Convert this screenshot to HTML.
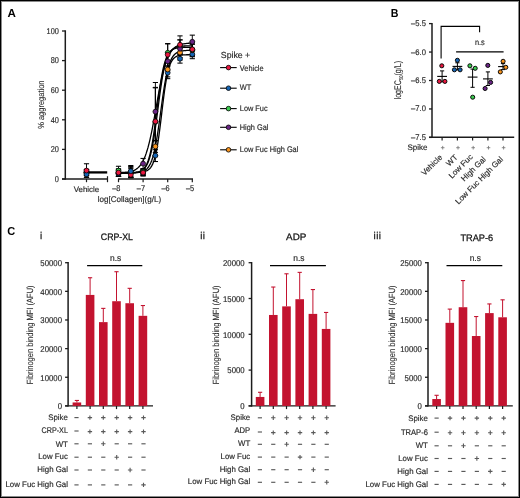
<!DOCTYPE html>
<html><head><meta charset="utf-8"><style>
html,body{margin:0;padding:0;background:#fff;}
body{width:520px;height:498px;overflow:hidden;position:relative;}
svg{position:absolute;left:0;top:0;font-family:"Liberation Sans", sans-serif;will-change:transform;text-rendering:geometricPrecision;}
</style></head><body>
<svg width="520" height="498" viewBox="0 0 520 498">
<rect x="0" y="0" width="520" height="498" fill="#fff"/>
<text x="7.50" y="16.90" font-size="11.6" text-anchor="start" fill="#000" font-weight="bold" >A</text>
<text transform="translate(390.80,16.80) scale(0.92,1)" font-size="11.6" text-anchor="start" fill="#000" font-weight="bold" >B</text>
<text transform="translate(7.30,234.80) scale(0.95,1)" font-size="11.6" text-anchor="start" fill="#000" font-weight="bold" >C</text>
<line x1="65.30" y1="30.30" x2="65.30" y2="179.70" stroke="#1c1c1c" stroke-width="1.5"/>
<line x1="62.00" y1="179.00" x2="65.30" y2="179.00" stroke="#1c1c1c" stroke-width="1.3"/>
<text transform="translate(58.90,181.70) scale(0.88,1)" font-size="8.4" text-anchor="end" fill="#2c2c2c" font-weight="normal"  stroke="#2c2c2c" stroke-width="0.18">0</text>
<line x1="62.00" y1="149.40" x2="65.30" y2="149.40" stroke="#1c1c1c" stroke-width="1.3"/>
<text transform="translate(58.90,152.10) scale(0.88,1)" font-size="8.4" text-anchor="end" fill="#2c2c2c" font-weight="normal"  stroke="#2c2c2c" stroke-width="0.18">20</text>
<line x1="62.00" y1="119.80" x2="65.30" y2="119.80" stroke="#1c1c1c" stroke-width="1.3"/>
<text transform="translate(58.90,122.50) scale(0.88,1)" font-size="8.4" text-anchor="end" fill="#2c2c2c" font-weight="normal"  stroke="#2c2c2c" stroke-width="0.18">40</text>
<line x1="62.00" y1="90.20" x2="65.30" y2="90.20" stroke="#1c1c1c" stroke-width="1.3"/>
<text transform="translate(58.90,92.90) scale(0.88,1)" font-size="8.4" text-anchor="end" fill="#2c2c2c" font-weight="normal"  stroke="#2c2c2c" stroke-width="0.18">60</text>
<line x1="62.00" y1="60.60" x2="65.30" y2="60.60" stroke="#1c1c1c" stroke-width="1.3"/>
<text transform="translate(58.90,63.30) scale(0.88,1)" font-size="8.4" text-anchor="end" fill="#2c2c2c" font-weight="normal"  stroke="#2c2c2c" stroke-width="0.18">80</text>
<line x1="62.00" y1="31.00" x2="65.30" y2="31.00" stroke="#1c1c1c" stroke-width="1.3"/>
<text transform="translate(58.90,33.70) scale(0.88,1)" font-size="8.4" text-anchor="end" fill="#2c2c2c" font-weight="normal"  stroke="#2c2c2c" stroke-width="0.18">100</text>
<line x1="62.00" y1="179.00" x2="107.50" y2="179.00" stroke="#1c1c1c" stroke-width="1.4"/>
<line x1="107.50" y1="176.20" x2="107.50" y2="182.20" stroke="#1c1c1c" stroke-width="1.2"/>
<line x1="86.50" y1="179.00" x2="86.50" y2="182.20" stroke="#1c1c1c" stroke-width="1.2"/>
<line x1="118.00" y1="179.00" x2="193.00" y2="179.00" stroke="#1c1c1c" stroke-width="1.4"/>
<line x1="118.50" y1="179.00" x2="118.50" y2="182.20" stroke="#1c1c1c" stroke-width="1.2"/>
<text transform="translate(120.40,191.30) scale(0.88,1)" font-size="8.4" text-anchor="end" fill="#2c2c2c" font-weight="normal"  stroke="#2c2c2c" stroke-width="0.18">&#8211;8</text>
<line x1="143.10" y1="179.00" x2="143.10" y2="182.20" stroke="#1c1c1c" stroke-width="1.2"/>
<text transform="translate(145.00,191.30) scale(0.88,1)" font-size="8.4" text-anchor="end" fill="#2c2c2c" font-weight="normal"  stroke="#2c2c2c" stroke-width="0.18">&#8211;7</text>
<line x1="167.70" y1="179.00" x2="167.70" y2="182.20" stroke="#1c1c1c" stroke-width="1.2"/>
<text transform="translate(169.60,191.30) scale(0.88,1)" font-size="8.4" text-anchor="end" fill="#2c2c2c" font-weight="normal"  stroke="#2c2c2c" stroke-width="0.18">&#8211;6</text>
<line x1="192.30" y1="179.00" x2="192.30" y2="182.20" stroke="#1c1c1c" stroke-width="1.2"/>
<text transform="translate(194.20,191.30) scale(0.88,1)" font-size="8.4" text-anchor="end" fill="#2c2c2c" font-weight="normal"  stroke="#2c2c2c" stroke-width="0.18">&#8211;5</text>
<text x="86.40" y="191.60" font-size="7.9" text-anchor="middle" fill="#2c2c2c" font-weight="normal"  stroke="#2c2c2c" stroke-width="0.18">Vehicle</text>
<text x="97.80" y="201.60" font-size="8.3" text-anchor="start" fill="#2c2c2c" font-weight="normal" textLength="63.3" lengthAdjust="spacingAndGlyphs" stroke="#2c2c2c" stroke-width="0.18">log[Collagen](g/L)</text>
<text transform="translate(43.6,104.7) rotate(-90)" font-size="8.8" text-anchor="middle" fill="#2c2c2c" stroke="#2c2c2c" stroke-width="0.1" textLength="48.3" lengthAdjust="spacingAndGlyphs">% aggregation</text>
<polyline points="118.50,173.08 119.42,173.07 120.34,173.07 121.27,173.07 122.19,173.07 123.11,173.07 124.03,173.06 124.96,173.06 125.88,173.05 126.80,173.04 127.72,173.04 128.65,173.03 129.57,173.01 130.49,172.99 131.42,172.97 132.34,172.95 133.26,172.91 134.18,172.87 135.10,172.82 136.03,172.76 136.95,172.68 137.87,172.58 138.80,172.45 139.72,172.30 140.64,172.11 141.56,171.87 142.48,171.57 143.41,171.20 144.33,170.74 145.25,170.17 146.18,169.47 147.10,168.61 148.02,167.54 148.94,166.25 149.87,164.66 150.79,162.75 151.71,160.44 152.63,157.70 153.56,154.46 154.48,150.67 155.40,146.32 156.32,141.39 157.25,135.89 158.17,129.90 159.09,123.50 160.01,116.83 160.94,110.02 161.86,103.26 162.78,96.70 163.70,90.48 164.62,84.72 165.55,79.50 166.47,74.84 167.39,70.76 168.31,67.24 169.24,64.24 170.16,61.72 171.08,59.61 172.00,57.86 172.93,56.42 173.85,55.24 174.77,54.28 175.69,53.49 176.62,52.86 177.54,52.35 178.46,51.93 179.38,51.60 180.31,51.33 181.23,51.12 182.15,50.94 183.07,50.80 184.00,50.69 184.92,50.60 185.84,50.53 186.77,50.47 187.69,50.43 188.61,50.39 189.53,50.36 190.45,50.34 191.38,50.32 192.30,50.30" fill="none" stroke="#000" stroke-width="1.3"/>
<polyline points="118.50,172.34 119.42,172.34 120.34,172.34 121.27,172.34 122.19,172.34 123.11,172.34 124.03,172.34 124.96,172.34 125.88,172.34 126.80,172.33 127.72,172.33 128.65,172.33 129.57,172.33 130.49,172.32 131.42,172.32 132.34,172.31 133.26,172.30 134.18,172.29 135.10,172.28 136.03,172.26 136.95,172.24 137.87,172.21 138.80,172.17 139.72,172.12 140.64,172.05 141.56,171.97 142.48,171.85 143.41,171.71 144.33,171.52 145.25,171.27 146.18,170.96 147.10,170.55 148.02,170.02 148.94,169.33 149.87,168.46 150.79,167.34 151.71,165.91 152.63,164.11 153.56,161.86 154.48,159.05 155.40,155.62 156.32,151.47 157.25,146.57 158.17,140.88 159.09,134.45 160.01,127.39 160.94,119.89 161.86,112.17 162.78,104.49 163.70,97.12 164.62,90.26 165.55,84.08 166.47,78.66 167.39,74.02 168.31,70.13 169.24,66.93 170.16,64.32 171.08,62.23 172.00,60.57 172.93,59.26 173.85,58.23 174.77,57.43 175.69,56.80 176.62,56.32 177.54,55.94 178.46,55.65 179.38,55.43 180.31,55.26 181.23,55.12 182.15,55.02 183.07,54.94 184.00,54.88 184.92,54.84 185.84,54.80 186.77,54.77 187.69,54.75 188.61,54.73 189.53,54.72 190.45,54.71 191.38,54.70 192.30,54.70" fill="none" stroke="#000" stroke-width="1.3"/>
<polyline points="118.50,173.07 119.42,173.07 120.34,173.07 121.27,173.06 122.19,173.06 123.11,173.05 124.03,173.05 124.96,173.04 125.88,173.03 126.80,173.01 127.72,173.00 128.65,172.98 129.57,172.95 130.49,172.92 131.42,172.88 132.34,172.83 133.26,172.76 134.18,172.68 135.10,172.58 136.03,172.46 136.95,172.30 137.87,172.11 138.80,171.86 139.72,171.56 140.64,171.18 141.56,170.71 142.48,170.13 143.41,169.41 144.33,168.52 145.25,167.42 146.18,166.08 147.10,164.44 148.02,162.44 148.94,160.04 149.87,157.17 150.79,153.77 151.71,149.80 152.63,145.22 153.56,140.03 154.48,134.25 155.40,127.94 156.32,121.21 157.25,114.19 158.17,107.06 159.09,99.99 160.01,93.14 160.94,86.68 161.86,80.71 162.78,75.32 163.70,70.54 164.62,66.37 165.55,62.78 166.47,59.74 167.39,57.19 168.31,55.07 169.24,53.31 170.16,51.87 171.08,50.70 172.00,49.75 172.93,48.97 173.85,48.35 174.77,47.84 175.69,47.44 176.62,47.11 177.54,46.85 178.46,46.64 179.38,46.47 180.31,46.34 181.23,46.23 182.15,46.14 183.07,46.07 184.00,46.02 184.92,45.98 185.84,45.94 186.77,45.91 187.69,45.89 188.61,45.87 189.53,45.86 190.45,45.85 191.38,45.84 192.30,45.83" fill="none" stroke="#000" stroke-width="1.3"/>
<polyline points="118.50,172.90 119.42,172.87 120.34,172.83 121.27,172.78 122.19,172.73 123.11,172.67 124.03,172.60 124.96,172.52 125.88,172.42 126.80,172.30 127.72,172.17 128.65,172.01 129.57,171.83 130.49,171.61 131.42,171.35 132.34,171.06 133.26,170.71 134.18,170.30 135.10,169.83 136.03,169.27 136.95,168.63 137.87,167.88 138.80,167.01 139.72,166.00 140.64,164.84 141.56,163.51 142.48,161.97 143.41,160.22 144.33,158.22 145.25,155.96 146.18,153.41 147.10,150.56 148.02,147.39 148.94,143.90 149.87,140.08 150.79,135.95 151.71,131.52 152.63,126.82 153.56,121.90 154.48,116.81 155.40,111.60 156.32,106.35 157.25,101.12 158.17,95.97 159.09,90.98 160.01,86.19 160.94,81.65 161.86,77.40 162.78,73.46 163.70,69.84 164.62,66.55 165.55,63.57 166.47,60.91 167.39,58.54 168.31,56.45 169.24,54.60 170.16,52.98 171.08,51.57 172.00,50.34 172.93,49.28 173.85,48.36 174.77,47.57 175.69,46.88 176.62,46.30 177.54,45.79 178.46,45.36 179.38,44.99 180.31,44.68 181.23,44.41 182.15,44.17 183.07,43.98 184.00,43.81 184.92,43.67 185.84,43.54 186.77,43.44 187.69,43.35 188.61,43.27 189.53,43.21 190.45,43.15 191.38,43.11 192.30,43.07" fill="none" stroke="#000" stroke-width="1.3"/>
<polyline points="118.50,173.07 119.42,173.07 120.34,173.07 121.27,173.06 122.19,173.06 123.11,173.06 124.03,173.05 124.96,173.04 125.88,173.03 126.80,173.02 127.72,173.00 128.65,172.98 129.57,172.95 130.49,172.92 131.42,172.88 132.34,172.83 133.26,172.76 134.18,172.67 135.10,172.57 136.03,172.44 136.95,172.27 137.87,172.06 138.80,171.79 139.72,171.46 140.64,171.04 141.56,170.51 142.48,169.85 143.41,169.03 144.33,168.01 145.25,166.75 146.18,165.19 147.10,163.28 148.02,160.96 148.94,158.15 149.87,154.80 150.79,150.85 151.71,146.26 152.63,141.01 153.56,135.13 154.48,128.68 155.40,121.78 156.32,114.57 157.25,107.25 158.17,100.01 159.09,93.03 160.01,86.48 160.94,80.48 161.86,75.10 162.78,70.38 163.70,66.30 164.62,62.83 165.55,59.93 166.47,57.51 167.39,55.52 168.31,53.90 169.24,52.58 170.16,51.51 171.08,50.66 172.00,49.97 172.93,49.42 173.85,48.98 174.77,48.63 175.69,48.35 176.62,48.13 177.54,47.96 178.46,47.82 179.38,47.70 180.31,47.62 181.23,47.55 182.15,47.49 183.07,47.45 184.00,47.41 184.92,47.39 185.84,47.36 186.77,47.35 187.69,47.33 188.61,47.32 189.53,47.31 190.45,47.31 191.38,47.30 192.30,47.30" fill="none" stroke="#000" stroke-width="1.3"/>
<line x1="88.80" y1="172.40" x2="107.20" y2="172.40" stroke="#000" stroke-width="2.3"/>
<line x1="86.50" y1="169.82" x2="86.50" y2="175.74" stroke="#000" stroke-width="0.95"/>
<line x1="83.90" y1="169.82" x2="89.10" y2="169.82" stroke="#000" stroke-width="1.05"/>
<line x1="83.90" y1="175.74" x2="89.10" y2="175.74" stroke="#000" stroke-width="1.05"/>
<line x1="86.50" y1="169.38" x2="86.50" y2="175.30" stroke="#000" stroke-width="0.95"/>
<line x1="83.90" y1="169.38" x2="89.10" y2="169.38" stroke="#000" stroke-width="1.05"/>
<line x1="83.90" y1="175.30" x2="89.10" y2="175.30" stroke="#000" stroke-width="1.05"/>
<line x1="86.50" y1="169.68" x2="86.50" y2="175.60" stroke="#000" stroke-width="0.95"/>
<line x1="83.90" y1="169.68" x2="89.10" y2="169.68" stroke="#000" stroke-width="1.05"/>
<line x1="83.90" y1="175.60" x2="89.10" y2="175.60" stroke="#000" stroke-width="1.05"/>
<line x1="86.50" y1="171.30" x2="86.50" y2="177.22" stroke="#000" stroke-width="0.95"/>
<line x1="83.90" y1="171.30" x2="89.10" y2="171.30" stroke="#000" stroke-width="1.05"/>
<line x1="83.90" y1="177.22" x2="89.10" y2="177.22" stroke="#000" stroke-width="1.05"/>
<line x1="86.50" y1="163.76" x2="86.50" y2="177.37" stroke="#000" stroke-width="0.95"/>
<line x1="83.90" y1="163.76" x2="89.10" y2="163.76" stroke="#000" stroke-width="1.05"/>
<line x1="83.90" y1="177.37" x2="89.10" y2="177.37" stroke="#000" stroke-width="1.05"/>
<line x1="118.50" y1="169.82" x2="118.50" y2="176.34" stroke="#000" stroke-width="0.95"/>
<line x1="115.90" y1="169.82" x2="121.10" y2="169.82" stroke="#000" stroke-width="1.05"/>
<line x1="115.90" y1="176.34" x2="121.10" y2="176.34" stroke="#000" stroke-width="1.05"/>
<line x1="118.50" y1="171.16" x2="118.50" y2="176.48" stroke="#000" stroke-width="0.95"/>
<line x1="115.90" y1="171.16" x2="121.10" y2="171.16" stroke="#000" stroke-width="1.05"/>
<line x1="115.90" y1="176.48" x2="121.10" y2="176.48" stroke="#000" stroke-width="1.05"/>
<line x1="118.50" y1="169.23" x2="118.50" y2="176.34" stroke="#000" stroke-width="0.95"/>
<line x1="115.90" y1="169.23" x2="121.10" y2="169.23" stroke="#000" stroke-width="1.05"/>
<line x1="115.90" y1="176.34" x2="121.10" y2="176.34" stroke="#000" stroke-width="1.05"/>
<line x1="118.50" y1="166.27" x2="118.50" y2="175.15" stroke="#000" stroke-width="0.95"/>
<line x1="115.90" y1="166.27" x2="121.10" y2="166.27" stroke="#000" stroke-width="1.05"/>
<line x1="115.90" y1="175.15" x2="121.10" y2="175.15" stroke="#000" stroke-width="1.05"/>
<line x1="118.50" y1="168.79" x2="118.50" y2="176.48" stroke="#000" stroke-width="0.95"/>
<line x1="115.90" y1="168.79" x2="121.10" y2="168.79" stroke="#000" stroke-width="1.05"/>
<line x1="115.90" y1="176.48" x2="121.10" y2="176.48" stroke="#000" stroke-width="1.05"/>
<line x1="130.80" y1="168.64" x2="130.80" y2="177.52" stroke="#000" stroke-width="0.95"/>
<line x1="128.20" y1="168.64" x2="133.40" y2="168.64" stroke="#000" stroke-width="1.05"/>
<line x1="128.20" y1="177.52" x2="133.40" y2="177.52" stroke="#000" stroke-width="1.05"/>
<line x1="130.80" y1="167.31" x2="130.80" y2="177.37" stroke="#000" stroke-width="0.95"/>
<line x1="128.20" y1="167.31" x2="133.40" y2="167.31" stroke="#000" stroke-width="1.05"/>
<line x1="128.20" y1="177.37" x2="133.40" y2="177.37" stroke="#000" stroke-width="1.05"/>
<line x1="130.80" y1="166.57" x2="130.80" y2="177.22" stroke="#000" stroke-width="0.95"/>
<line x1="128.20" y1="166.57" x2="133.40" y2="166.57" stroke="#000" stroke-width="1.05"/>
<line x1="128.20" y1="177.22" x2="133.40" y2="177.22" stroke="#000" stroke-width="1.05"/>
<line x1="130.80" y1="171.90" x2="130.80" y2="177.82" stroke="#000" stroke-width="0.95"/>
<line x1="128.20" y1="171.90" x2="133.40" y2="171.90" stroke="#000" stroke-width="1.05"/>
<line x1="128.20" y1="177.82" x2="133.40" y2="177.82" stroke="#000" stroke-width="1.05"/>
<line x1="130.80" y1="165.53" x2="130.80" y2="176.78" stroke="#000" stroke-width="0.95"/>
<line x1="128.20" y1="165.53" x2="133.40" y2="165.53" stroke="#000" stroke-width="1.05"/>
<line x1="128.20" y1="176.78" x2="133.40" y2="176.78" stroke="#000" stroke-width="1.05"/>
<line x1="143.10" y1="169.38" x2="143.10" y2="175.30" stroke="#000" stroke-width="0.95"/>
<line x1="140.50" y1="169.38" x2="145.70" y2="169.38" stroke="#000" stroke-width="1.05"/>
<line x1="140.50" y1="175.30" x2="145.70" y2="175.30" stroke="#000" stroke-width="1.05"/>
<line x1="143.10" y1="170.12" x2="143.10" y2="176.04" stroke="#000" stroke-width="0.95"/>
<line x1="140.50" y1="170.12" x2="145.70" y2="170.12" stroke="#000" stroke-width="1.05"/>
<line x1="140.50" y1="176.04" x2="145.70" y2="176.04" stroke="#000" stroke-width="1.05"/>
<line x1="143.10" y1="168.64" x2="143.10" y2="174.56" stroke="#000" stroke-width="0.95"/>
<line x1="140.50" y1="168.64" x2="145.70" y2="168.64" stroke="#000" stroke-width="1.05"/>
<line x1="140.50" y1="174.56" x2="145.70" y2="174.56" stroke="#000" stroke-width="1.05"/>
<line x1="143.10" y1="158.43" x2="143.10" y2="168.79" stroke="#000" stroke-width="0.95"/>
<line x1="140.50" y1="158.43" x2="145.70" y2="158.43" stroke="#000" stroke-width="1.05"/>
<line x1="140.50" y1="168.79" x2="145.70" y2="168.79" stroke="#000" stroke-width="1.05"/>
<line x1="143.10" y1="169.68" x2="143.10" y2="175.60" stroke="#000" stroke-width="0.95"/>
<line x1="140.50" y1="169.68" x2="145.70" y2="169.68" stroke="#000" stroke-width="1.05"/>
<line x1="140.50" y1="175.60" x2="145.70" y2="175.60" stroke="#000" stroke-width="1.05"/>
<line x1="155.40" y1="149.70" x2="155.40" y2="161.54" stroke="#000" stroke-width="0.95"/>
<line x1="152.80" y1="149.70" x2="158.00" y2="149.70" stroke="#000" stroke-width="1.05"/>
<line x1="152.80" y1="161.54" x2="158.00" y2="161.54" stroke="#000" stroke-width="1.05"/>
<line x1="155.40" y1="140.52" x2="155.40" y2="152.36" stroke="#000" stroke-width="0.95"/>
<line x1="152.80" y1="140.52" x2="158.00" y2="140.52" stroke="#000" stroke-width="1.05"/>
<line x1="152.80" y1="152.36" x2="158.00" y2="152.36" stroke="#000" stroke-width="1.05"/>
<line x1="155.40" y1="87.83" x2="155.40" y2="155.91" stroke="#000" stroke-width="0.95"/>
<line x1="152.80" y1="87.83" x2="158.00" y2="87.83" stroke="#000" stroke-width="1.05"/>
<line x1="152.80" y1="155.91" x2="158.00" y2="155.91" stroke="#000" stroke-width="1.05"/>
<line x1="155.40" y1="82.50" x2="155.40" y2="140.82" stroke="#000" stroke-width="0.95"/>
<line x1="152.80" y1="82.50" x2="158.00" y2="82.50" stroke="#000" stroke-width="1.05"/>
<line x1="152.80" y1="140.82" x2="158.00" y2="140.82" stroke="#000" stroke-width="1.05"/>
<line x1="155.40" y1="87.39" x2="155.40" y2="155.47" stroke="#000" stroke-width="0.95"/>
<line x1="152.80" y1="87.39" x2="158.00" y2="87.39" stroke="#000" stroke-width="1.05"/>
<line x1="152.80" y1="155.47" x2="158.00" y2="155.47" stroke="#000" stroke-width="1.05"/>
<line x1="167.70" y1="66.82" x2="167.70" y2="78.66" stroke="#000" stroke-width="0.95"/>
<line x1="165.10" y1="66.82" x2="170.30" y2="66.82" stroke="#000" stroke-width="1.05"/>
<line x1="165.10" y1="78.66" x2="170.30" y2="78.66" stroke="#000" stroke-width="1.05"/>
<line x1="167.70" y1="62.08" x2="167.70" y2="76.88" stroke="#000" stroke-width="0.95"/>
<line x1="165.10" y1="62.08" x2="170.30" y2="62.08" stroke="#000" stroke-width="1.05"/>
<line x1="165.10" y1="76.88" x2="170.30" y2="76.88" stroke="#000" stroke-width="1.05"/>
<line x1="167.70" y1="52.46" x2="167.70" y2="70.22" stroke="#000" stroke-width="0.95"/>
<line x1="165.10" y1="52.46" x2="170.30" y2="52.46" stroke="#000" stroke-width="1.05"/>
<line x1="165.10" y1="70.22" x2="170.30" y2="70.22" stroke="#000" stroke-width="1.05"/>
<line x1="167.70" y1="43.88" x2="167.70" y2="61.64" stroke="#000" stroke-width="0.95"/>
<line x1="165.10" y1="43.88" x2="170.30" y2="43.88" stroke="#000" stroke-width="1.05"/>
<line x1="165.10" y1="61.64" x2="170.30" y2="61.64" stroke="#000" stroke-width="1.05"/>
<line x1="167.70" y1="43.58" x2="167.70" y2="65.78" stroke="#000" stroke-width="0.95"/>
<line x1="165.10" y1="43.58" x2="170.30" y2="43.58" stroke="#000" stroke-width="1.05"/>
<line x1="165.10" y1="65.78" x2="170.30" y2="65.78" stroke="#000" stroke-width="1.05"/>
<line x1="180.00" y1="54.24" x2="180.00" y2="63.12" stroke="#000" stroke-width="0.95"/>
<line x1="177.40" y1="54.24" x2="182.60" y2="54.24" stroke="#000" stroke-width="1.05"/>
<line x1="177.40" y1="63.12" x2="182.60" y2="63.12" stroke="#000" stroke-width="1.05"/>
<line x1="180.00" y1="45.21" x2="180.00" y2="60.01" stroke="#000" stroke-width="0.95"/>
<line x1="177.40" y1="45.21" x2="182.60" y2="45.21" stroke="#000" stroke-width="1.05"/>
<line x1="177.40" y1="60.01" x2="182.60" y2="60.01" stroke="#000" stroke-width="1.05"/>
<line x1="180.00" y1="39.88" x2="180.00" y2="54.68" stroke="#000" stroke-width="0.95"/>
<line x1="177.40" y1="39.88" x2="182.60" y2="39.88" stroke="#000" stroke-width="1.05"/>
<line x1="177.40" y1="54.68" x2="182.60" y2="54.68" stroke="#000" stroke-width="1.05"/>
<line x1="180.00" y1="39.88" x2="180.00" y2="57.64" stroke="#000" stroke-width="0.95"/>
<line x1="177.40" y1="39.88" x2="182.60" y2="39.88" stroke="#000" stroke-width="1.05"/>
<line x1="177.40" y1="57.64" x2="182.60" y2="57.64" stroke="#000" stroke-width="1.05"/>
<line x1="180.00" y1="35.88" x2="180.00" y2="53.64" stroke="#000" stroke-width="0.95"/>
<line x1="177.40" y1="35.88" x2="182.60" y2="35.88" stroke="#000" stroke-width="1.05"/>
<line x1="177.40" y1="53.64" x2="182.60" y2="53.64" stroke="#000" stroke-width="1.05"/>
<line x1="192.30" y1="49.80" x2="192.30" y2="58.68" stroke="#000" stroke-width="0.95"/>
<line x1="189.70" y1="49.80" x2="194.90" y2="49.80" stroke="#000" stroke-width="1.05"/>
<line x1="189.70" y1="58.68" x2="194.90" y2="58.68" stroke="#000" stroke-width="1.05"/>
<line x1="192.30" y1="44.32" x2="192.30" y2="56.16" stroke="#000" stroke-width="0.95"/>
<line x1="189.70" y1="44.32" x2="194.90" y2="44.32" stroke="#000" stroke-width="1.05"/>
<line x1="189.70" y1="56.16" x2="194.90" y2="56.16" stroke="#000" stroke-width="1.05"/>
<line x1="192.30" y1="43.88" x2="192.30" y2="55.72" stroke="#000" stroke-width="0.95"/>
<line x1="189.70" y1="43.88" x2="194.90" y2="43.88" stroke="#000" stroke-width="1.05"/>
<line x1="189.70" y1="55.72" x2="194.90" y2="55.72" stroke="#000" stroke-width="1.05"/>
<line x1="192.30" y1="41.95" x2="192.30" y2="56.75" stroke="#000" stroke-width="0.95"/>
<line x1="189.70" y1="41.95" x2="194.90" y2="41.95" stroke="#000" stroke-width="1.05"/>
<line x1="189.70" y1="56.75" x2="194.90" y2="56.75" stroke="#000" stroke-width="1.05"/>
<line x1="192.30" y1="35.14" x2="192.30" y2="48.46" stroke="#000" stroke-width="0.95"/>
<line x1="189.70" y1="35.14" x2="194.90" y2="35.14" stroke="#000" stroke-width="1.05"/>
<line x1="189.70" y1="48.46" x2="194.90" y2="48.46" stroke="#000" stroke-width="1.05"/>
<circle cx="86.50" cy="172.78" r="2.45" fill="#F7941E" stroke="#000" stroke-width="0.75"/>
<circle cx="86.50" cy="172.34" r="2.45" fill="#3CCB50" stroke="#000" stroke-width="0.75"/>
<circle cx="86.50" cy="172.64" r="2.45" fill="#6A2585" stroke="#000" stroke-width="0.75"/>
<circle cx="86.50" cy="174.26" r="2.45" fill="#1565B5" stroke="#000" stroke-width="0.75"/>
<circle cx="86.50" cy="170.56" r="2.45" fill="#E8173F" stroke="#000" stroke-width="0.75"/>
<circle cx="118.50" cy="173.08" r="2.45" fill="#F7941E" stroke="#000" stroke-width="0.75"/>
<circle cx="118.50" cy="173.82" r="2.45" fill="#1565B5" stroke="#000" stroke-width="0.75"/>
<circle cx="118.50" cy="172.78" r="2.45" fill="#6A2585" stroke="#000" stroke-width="0.75"/>
<circle cx="118.50" cy="170.71" r="2.45" fill="#3CCB50" stroke="#000" stroke-width="0.75"/>
<circle cx="118.50" cy="172.64" r="2.45" fill="#E8173F" stroke="#000" stroke-width="0.75"/>
<circle cx="130.80" cy="173.08" r="2.45" fill="#F7941E" stroke="#000" stroke-width="0.75"/>
<circle cx="130.80" cy="172.34" r="2.45" fill="#3CCB50" stroke="#000" stroke-width="0.75"/>
<circle cx="130.80" cy="171.90" r="2.45" fill="#6A2585" stroke="#000" stroke-width="0.75"/>
<circle cx="130.80" cy="174.86" r="2.45" fill="#E8173F" stroke="#000" stroke-width="0.75"/>
<circle cx="130.80" cy="171.16" r="2.45" fill="#1565B5" stroke="#000" stroke-width="0.75"/>
<circle cx="143.10" cy="172.34" r="2.45" fill="#F7941E" stroke="#000" stroke-width="0.75"/>
<circle cx="143.10" cy="173.08" r="2.45" fill="#1565B5" stroke="#000" stroke-width="0.75"/>
<circle cx="143.10" cy="171.60" r="2.45" fill="#3CCB50" stroke="#000" stroke-width="0.75"/>
<circle cx="143.10" cy="163.61" r="2.45" fill="#6A2585" stroke="#000" stroke-width="0.75"/>
<circle cx="143.10" cy="172.64" r="2.45" fill="#E8173F" stroke="#000" stroke-width="0.75"/>
<circle cx="155.40" cy="155.62" r="2.45" fill="#1565B5" stroke="#000" stroke-width="0.75"/>
<circle cx="155.40" cy="146.44" r="2.45" fill="#F7941E" stroke="#000" stroke-width="0.75"/>
<circle cx="155.40" cy="121.87" r="2.45" fill="#3CCB50" stroke="#000" stroke-width="0.75"/>
<circle cx="155.40" cy="111.66" r="2.45" fill="#6A2585" stroke="#000" stroke-width="0.75"/>
<circle cx="155.40" cy="121.43" r="2.45" fill="#E8173F" stroke="#000" stroke-width="0.75"/>
<circle cx="167.70" cy="72.74" r="2.45" fill="#1565B5" stroke="#000" stroke-width="0.75"/>
<circle cx="167.70" cy="69.48" r="2.45" fill="#F7941E" stroke="#000" stroke-width="0.75"/>
<circle cx="167.70" cy="61.34" r="2.45" fill="#6A2585" stroke="#000" stroke-width="0.75"/>
<circle cx="167.70" cy="52.76" r="2.45" fill="#3CCB50" stroke="#000" stroke-width="0.75"/>
<circle cx="167.70" cy="54.68" r="2.45" fill="#E8173F" stroke="#000" stroke-width="0.75"/>
<circle cx="180.00" cy="58.68" r="2.45" fill="#1565B5" stroke="#000" stroke-width="0.75"/>
<circle cx="180.00" cy="52.61" r="2.45" fill="#F7941E" stroke="#000" stroke-width="0.75"/>
<circle cx="180.00" cy="47.28" r="2.45" fill="#3CCB50" stroke="#000" stroke-width="0.75"/>
<circle cx="180.00" cy="48.76" r="2.45" fill="#6A2585" stroke="#000" stroke-width="0.75"/>
<circle cx="180.00" cy="44.76" r="2.45" fill="#E8173F" stroke="#000" stroke-width="0.75"/>
<circle cx="192.30" cy="54.24" r="2.45" fill="#1565B5" stroke="#000" stroke-width="0.75"/>
<circle cx="192.30" cy="50.24" r="2.45" fill="#F7941E" stroke="#000" stroke-width="0.75"/>
<circle cx="192.30" cy="49.80" r="2.45" fill="#3CCB50" stroke="#000" stroke-width="0.75"/>
<circle cx="192.30" cy="49.35" r="2.45" fill="#E8173F" stroke="#000" stroke-width="0.75"/>
<circle cx="192.30" cy="41.80" r="2.45" fill="#6A2585" stroke="#000" stroke-width="0.75"/>
<text transform="translate(220.80,57.70) scale(0.985,1)" font-size="8.9" text-anchor="start" fill="#2c2c2c" font-weight="normal"  stroke="#2c2c2c" stroke-width="0.18">Spike +</text>
<line x1="220.10" y1="67.60" x2="236.70" y2="67.60" stroke="#000" stroke-width="1.1"/>
<circle cx="228.50" cy="67.60" r="2.3" fill="#E8173F" stroke="#000" stroke-width="0.8"/>
<text transform="translate(239.80,70.90) scale(0.91,1)" font-size="8.1" text-anchor="start" fill="#2c2c2c" font-weight="normal"  stroke="#2c2c2c" stroke-width="0.18">Vehicle</text>
<line x1="220.10" y1="88.20" x2="236.70" y2="88.20" stroke="#000" stroke-width="1.1"/>
<circle cx="228.50" cy="88.20" r="2.3" fill="#1565B5" stroke="#000" stroke-width="0.8"/>
<text transform="translate(239.80,90.00) scale(0.91,1)" font-size="8.1" text-anchor="start" fill="#2c2c2c" font-weight="normal"  stroke="#2c2c2c" stroke-width="0.18">WT</text>
<line x1="220.10" y1="108.60" x2="236.70" y2="108.60" stroke="#000" stroke-width="1.1"/>
<circle cx="228.50" cy="108.60" r="2.3" fill="#3CCB50" stroke="#000" stroke-width="0.8"/>
<text transform="translate(239.80,110.90) scale(0.91,1)" font-size="8.1" text-anchor="start" fill="#2c2c2c" font-weight="normal"  stroke="#2c2c2c" stroke-width="0.18">Low Fuc</text>
<line x1="220.10" y1="127.30" x2="236.70" y2="127.30" stroke="#000" stroke-width="1.1"/>
<circle cx="228.50" cy="127.30" r="2.3" fill="#6A2585" stroke="#000" stroke-width="0.8"/>
<text transform="translate(239.80,129.90) scale(0.91,1)" font-size="8.1" text-anchor="start" fill="#2c2c2c" font-weight="normal"  stroke="#2c2c2c" stroke-width="0.18">High Gal</text>
<line x1="220.10" y1="149.80" x2="236.70" y2="149.80" stroke="#000" stroke-width="1.1"/>
<circle cx="228.50" cy="149.80" r="2.3" fill="#F7941E" stroke="#000" stroke-width="0.8"/>
<text transform="translate(239.80,152.00) scale(0.91,1)" font-size="8.1" text-anchor="start" fill="#2c2c2c" font-weight="normal"  stroke="#2c2c2c" stroke-width="0.18">Low Fuc High Gal</text>
<line x1="432.00" y1="23.00" x2="432.00" y2="138.00" stroke="#1c1c1c" stroke-width="1.5"/>
<line x1="429.00" y1="23.60" x2="432.00" y2="23.60" stroke="#1c1c1c" stroke-width="1.3"/>
<text transform="translate(425.90,26.10) scale(0.93,1)" font-size="8.2" text-anchor="end" fill="#2c2c2c" font-weight="normal"  stroke="#2c2c2c" stroke-width="0.18">&#8211;5.5</text>
<line x1="429.00" y1="52.05" x2="432.00" y2="52.05" stroke="#1c1c1c" stroke-width="1.3"/>
<text transform="translate(425.90,54.55) scale(0.93,1)" font-size="8.2" text-anchor="end" fill="#2c2c2c" font-weight="normal"  stroke="#2c2c2c" stroke-width="0.18">&#8211;6.0</text>
<line x1="429.00" y1="80.50" x2="432.00" y2="80.50" stroke="#1c1c1c" stroke-width="1.3"/>
<text transform="translate(425.90,83.00) scale(0.93,1)" font-size="8.2" text-anchor="end" fill="#2c2c2c" font-weight="normal"  stroke="#2c2c2c" stroke-width="0.18">&#8211;6.5</text>
<line x1="429.00" y1="108.95" x2="432.00" y2="108.95" stroke="#1c1c1c" stroke-width="1.3"/>
<text transform="translate(425.90,111.45) scale(0.93,1)" font-size="8.2" text-anchor="end" fill="#2c2c2c" font-weight="normal"  stroke="#2c2c2c" stroke-width="0.18">&#8211;7.0</text>
<line x1="429.00" y1="137.40" x2="432.00" y2="137.40" stroke="#1c1c1c" stroke-width="1.3"/>
<text transform="translate(425.90,139.90) scale(0.93,1)" font-size="8.2" text-anchor="end" fill="#2c2c2c" font-weight="normal"  stroke="#2c2c2c" stroke-width="0.18">&#8211;7.5</text>
<line x1="429.00" y1="137.30" x2="514.20" y2="137.30" stroke="#1c1c1c" stroke-width="1.4"/>
<line x1="442.10" y1="137.30" x2="442.10" y2="140.60" stroke="#1c1c1c" stroke-width="1.2"/>
<path d="M440.90,147.7H444.50M442.70,145.9V149.5" stroke="#777" stroke-width="0.85" fill="none"/>
<line x1="457.40" y1="137.30" x2="457.40" y2="140.60" stroke="#1c1c1c" stroke-width="1.2"/>
<path d="M456.20,147.7H459.80M458.00,145.9V149.5" stroke="#777" stroke-width="0.85" fill="none"/>
<line x1="472.60" y1="137.30" x2="472.60" y2="140.60" stroke="#1c1c1c" stroke-width="1.2"/>
<path d="M471.40,147.7H475.00M473.20,145.9V149.5" stroke="#777" stroke-width="0.85" fill="none"/>
<line x1="487.90" y1="137.30" x2="487.90" y2="140.60" stroke="#1c1c1c" stroke-width="1.2"/>
<path d="M486.70,147.7H490.30M488.50,145.9V149.5" stroke="#777" stroke-width="0.85" fill="none"/>
<line x1="503.00" y1="137.30" x2="503.00" y2="140.60" stroke="#1c1c1c" stroke-width="1.2"/>
<path d="M501.80,147.7H505.40M503.60,145.9V149.5" stroke="#777" stroke-width="0.85" fill="none"/>
<text x="427.50" y="150.30" font-size="8.0" text-anchor="end" fill="#2c2c2c" font-weight="normal"  stroke="#2c2c2c" stroke-width="0.18">Spike</text>
<text transform="translate(442.80,157.80) rotate(-45)" font-size="8.0" text-anchor="end" fill="#2c2c2c" stroke="#2c2c2c" stroke-width="0.18">Vehicle</text>
<text transform="translate(458.10,157.90) rotate(-45)" font-size="8.0" text-anchor="end" fill="#2c2c2c" stroke="#2c2c2c" stroke-width="0.18">WT</text>
<text transform="translate(473.30,157.50) rotate(-45)" font-size="8.0" text-anchor="end" fill="#2c2c2c" stroke="#2c2c2c" stroke-width="0.18">Low Fuc</text>
<text transform="translate(486.30,159.80) rotate(-45)" font-size="8.0" text-anchor="end" fill="#2c2c2c" stroke="#2c2c2c" stroke-width="0.18">High Gal</text>
<text transform="translate(503.50,159.80) rotate(-45)" font-size="8.0" text-anchor="end" fill="#2c2c2c" stroke="#2c2c2c" stroke-width="0.18">Low Fuc High Gal</text>
<text transform="translate(401.0,80.2) rotate(-90)" font-size="9.6" text-anchor="middle" fill="#2c2c2c" stroke="#2c2c2c" stroke-width="0.1" textLength="38.4" lengthAdjust="spacingAndGlyphs">logEC<tspan font-size="5.5" dy="2.4">50</tspan><tspan dy="-2.4">(g/L)</tspan></text>
<path d="M441.1,58.4 V26.4 H479.6 V32.2" fill="none" stroke="#000" stroke-width="1.1"/>
<line x1="456.10" y1="51.90" x2="503.60" y2="51.90" stroke="#000" stroke-width="1.1"/>
<text transform="translate(479.90,45.30) scale(0.9,1)" font-size="8.2" text-anchor="middle" fill="#2c2c2c" font-weight="normal"  stroke="#2c2c2c" stroke-width="0.18">n.s</text>
<line x1="437.20" y1="76.40" x2="447.00" y2="76.40" stroke="#000" stroke-width="1.1"/>
<line x1="442.10" y1="70.90" x2="442.10" y2="81.80" stroke="#000" stroke-width="1.0"/>
<line x1="440.00" y1="70.90" x2="444.20" y2="70.90" stroke="#000" stroke-width="1.0"/>
<line x1="440.00" y1="81.80" x2="444.20" y2="81.80" stroke="#000" stroke-width="1.0"/>
<circle cx="441.80" cy="65.80" r="2.05" fill="#E8173F" stroke="#000" stroke-width="0.95"/>
<circle cx="439.30" cy="81.40" r="2.05" fill="#E8173F" stroke="#000" stroke-width="0.95"/>
<circle cx="444.90" cy="81.40" r="2.05" fill="#E8173F" stroke="#000" stroke-width="0.95"/>
<line x1="452.50" y1="66.40" x2="462.30" y2="66.40" stroke="#000" stroke-width="1.1"/>
<line x1="457.40" y1="62.80" x2="457.40" y2="69.90" stroke="#000" stroke-width="1.0"/>
<line x1="455.30" y1="62.80" x2="459.50" y2="62.80" stroke="#000" stroke-width="1.0"/>
<line x1="455.30" y1="69.90" x2="459.50" y2="69.90" stroke="#000" stroke-width="1.0"/>
<circle cx="457.40" cy="60.30" r="2.05" fill="#1565B5" stroke="#000" stroke-width="0.95"/>
<circle cx="454.40" cy="69.80" r="2.05" fill="#1565B5" stroke="#000" stroke-width="0.95"/>
<circle cx="460.10" cy="69.80" r="2.05" fill="#1565B5" stroke="#000" stroke-width="0.95"/>
<line x1="467.70" y1="77.10" x2="477.50" y2="77.10" stroke="#000" stroke-width="1.1"/>
<line x1="472.60" y1="69.10" x2="472.60" y2="87.30" stroke="#000" stroke-width="1.0"/>
<line x1="470.50" y1="69.10" x2="474.70" y2="69.10" stroke="#000" stroke-width="1.0"/>
<line x1="470.50" y1="87.30" x2="474.70" y2="87.30" stroke="#000" stroke-width="1.0"/>
<circle cx="469.90" cy="65.80" r="2.05" fill="#3CCB50" stroke="#000" stroke-width="0.95"/>
<circle cx="475.20" cy="68.30" r="2.05" fill="#3CCB50" stroke="#000" stroke-width="0.95"/>
<circle cx="472.70" cy="97.20" r="2.05" fill="#3CCB50" stroke="#000" stroke-width="0.95"/>
<line x1="483.00" y1="78.90" x2="492.80" y2="78.90" stroke="#000" stroke-width="1.1"/>
<line x1="487.90" y1="71.90" x2="487.90" y2="85.50" stroke="#000" stroke-width="1.0"/>
<line x1="485.80" y1="71.90" x2="490.00" y2="71.90" stroke="#000" stroke-width="1.0"/>
<line x1="485.80" y1="85.50" x2="490.00" y2="85.50" stroke="#000" stroke-width="1.0"/>
<circle cx="487.80" cy="65.40" r="2.05" fill="#6A2585" stroke="#000" stroke-width="0.95"/>
<circle cx="490.60" cy="82.40" r="2.05" fill="#6A2585" stroke="#000" stroke-width="0.95"/>
<circle cx="485.10" cy="88.50" r="2.05" fill="#6A2585" stroke="#000" stroke-width="0.95"/>
<line x1="498.10" y1="66.60" x2="507.90" y2="66.60" stroke="#000" stroke-width="1.1"/>
<line x1="503.00" y1="63.60" x2="503.00" y2="69.60" stroke="#000" stroke-width="1.0"/>
<line x1="500.90" y1="63.60" x2="505.10" y2="63.60" stroke="#000" stroke-width="1.0"/>
<line x1="500.90" y1="69.60" x2="505.10" y2="69.60" stroke="#000" stroke-width="1.0"/>
<circle cx="503.10" cy="61.30" r="2.05" fill="#F7941E" stroke="#000" stroke-width="0.95"/>
<circle cx="505.80" cy="67.30" r="2.05" fill="#F7941E" stroke="#000" stroke-width="0.95"/>
<circle cx="500.30" cy="71.90" r="2.05" fill="#F7941E" stroke="#000" stroke-width="0.95"/>
<text x="40.00" y="239.10" font-size="9.9" text-anchor="start" fill="#1a1a1a" font-weight="normal" letter-spacing="0.35" stroke="#1a1a1a" stroke-width="0.25">i</text>
<text x="116.90" y="239.80" font-size="9.4" text-anchor="middle" fill="#111" font-weight="normal" textLength="32.2" lengthAdjust="spacingAndGlyphs" stroke="#111" stroke-width="0.25">CRP-XL</text>
<line x1="68.10" y1="262.00" x2="68.10" y2="406.60" stroke="#1c1c1c" stroke-width="1.5"/>
<line x1="65.10" y1="405.90" x2="68.10" y2="405.90" stroke="#1c1c1c" stroke-width="1.3"/>
<text transform="translate(62.00,409.20) scale(0.93,1)" font-size="8.4" text-anchor="end" fill="#2c2c2c" font-weight="normal"  stroke="#2c2c2c" stroke-width="0.18">0</text>
<line x1="65.10" y1="377.26" x2="68.10" y2="377.26" stroke="#1c1c1c" stroke-width="1.3"/>
<text transform="translate(62.00,380.56) scale(0.93,1)" font-size="8.4" text-anchor="end" fill="#2c2c2c" font-weight="normal"  stroke="#2c2c2c" stroke-width="0.18">10000</text>
<line x1="65.10" y1="348.62" x2="68.10" y2="348.62" stroke="#1c1c1c" stroke-width="1.3"/>
<text transform="translate(62.00,351.92) scale(0.93,1)" font-size="8.4" text-anchor="end" fill="#2c2c2c" font-weight="normal"  stroke="#2c2c2c" stroke-width="0.18">20000</text>
<line x1="65.10" y1="319.98" x2="68.10" y2="319.98" stroke="#1c1c1c" stroke-width="1.3"/>
<text transform="translate(62.00,323.28) scale(0.93,1)" font-size="8.4" text-anchor="end" fill="#2c2c2c" font-weight="normal"  stroke="#2c2c2c" stroke-width="0.18">30000</text>
<line x1="65.10" y1="291.34" x2="68.10" y2="291.34" stroke="#1c1c1c" stroke-width="1.3"/>
<text transform="translate(62.00,294.64) scale(0.93,1)" font-size="8.4" text-anchor="end" fill="#2c2c2c" font-weight="normal"  stroke="#2c2c2c" stroke-width="0.18">40000</text>
<line x1="65.10" y1="262.70" x2="68.10" y2="262.70" stroke="#1c1c1c" stroke-width="1.3"/>
<text transform="translate(62.00,266.00) scale(0.93,1)" font-size="8.4" text-anchor="end" fill="#2c2c2c" font-weight="normal"  stroke="#2c2c2c" stroke-width="0.18">50000</text>
<line x1="65.10" y1="405.90" x2="153.00" y2="405.90" stroke="#1c1c1c" stroke-width="1.4"/>
<line x1="76.90" y1="405.90" x2="76.90" y2="409.10" stroke="#1c1c1c" stroke-width="1.2"/>
<rect x="72.60" y="402.46" width="8.6" height="3.44" fill="#C3132F"/>
<line x1="76.90" y1="400.46" x2="76.90" y2="402.46" stroke="#C3132F" stroke-width="1.0"/>
<line x1="74.80" y1="400.46" x2="79.00" y2="400.46" stroke="#C3132F" stroke-width="1.1"/>
<line x1="90.10" y1="405.90" x2="90.10" y2="409.10" stroke="#1c1c1c" stroke-width="1.2"/>
<rect x="85.80" y="294.92" width="8.6" height="110.98" fill="#C3132F"/>
<line x1="90.10" y1="277.74" x2="90.10" y2="294.92" stroke="#C3132F" stroke-width="1.0"/>
<line x1="88.00" y1="277.74" x2="92.20" y2="277.74" stroke="#C3132F" stroke-width="1.1"/>
<line x1="103.30" y1="405.90" x2="103.30" y2="409.10" stroke="#1c1c1c" stroke-width="1.2"/>
<rect x="99.00" y="322.13" width="8.6" height="83.77" fill="#C3132F"/>
<line x1="103.30" y1="308.38" x2="103.30" y2="322.13" stroke="#C3132F" stroke-width="1.0"/>
<line x1="101.20" y1="308.38" x2="105.40" y2="308.38" stroke="#C3132F" stroke-width="1.1"/>
<line x1="116.50" y1="405.90" x2="116.50" y2="409.10" stroke="#1c1c1c" stroke-width="1.2"/>
<rect x="112.20" y="301.22" width="8.6" height="104.68" fill="#C3132F"/>
<line x1="116.50" y1="271.72" x2="116.50" y2="301.22" stroke="#C3132F" stroke-width="1.0"/>
<line x1="114.40" y1="271.72" x2="118.60" y2="271.72" stroke="#C3132F" stroke-width="1.1"/>
<line x1="129.70" y1="405.90" x2="129.70" y2="409.10" stroke="#1c1c1c" stroke-width="1.2"/>
<rect x="125.40" y="303.23" width="8.6" height="102.67" fill="#C3132F"/>
<line x1="129.70" y1="288.33" x2="129.70" y2="303.23" stroke="#C3132F" stroke-width="1.0"/>
<line x1="127.60" y1="288.33" x2="131.80" y2="288.33" stroke="#C3132F" stroke-width="1.1"/>
<line x1="142.90" y1="405.90" x2="142.90" y2="409.10" stroke="#1c1c1c" stroke-width="1.2"/>
<rect x="138.60" y="315.83" width="8.6" height="90.07" fill="#C3132F"/>
<line x1="142.90" y1="305.52" x2="142.90" y2="315.83" stroke="#C3132F" stroke-width="1.0"/>
<line x1="140.80" y1="305.52" x2="145.00" y2="305.52" stroke="#C3132F" stroke-width="1.1"/>
<line x1="87.10" y1="265.60" x2="142.30" y2="265.60" stroke="#000" stroke-width="1.1"/>
<text transform="translate(115.60,261.10) scale(0.96,1)" font-size="8.8" text-anchor="middle" fill="#2c2c2c" font-weight="normal"  stroke="#2c2c2c" stroke-width="0.18">n.s</text>
<text transform="translate(33.00,334.9) rotate(-90)" font-size="9.0" text-anchor="middle" fill="#2c2c2c" stroke="#2c2c2c" stroke-width="0.08" textLength="98.9" lengthAdjust="spacingAndGlyphs">Fibrinogen binding MFI (AFU)</text>
<text transform="translate(67.90,420.40) scale(0.97,1)" font-size="8.1" text-anchor="end" fill="#2c2c2c" font-weight="normal"  stroke="#2c2c2c" stroke-width="0.18">Spike</text>
<path d="M74.40,417.60H78.60" stroke="#5a5a5a" stroke-width="1.15" fill="none"/>
<path d="M87.70,417.60H92.10M89.90,415.40V419.80" stroke="#5a5a5a" stroke-width="1.1" fill="none"/>
<path d="M101.10,417.60H105.50M103.30,415.40V419.80" stroke="#5a5a5a" stroke-width="1.1" fill="none"/>
<path d="M114.50,417.60H118.90M116.70,415.40V419.80" stroke="#5a5a5a" stroke-width="1.1" fill="none"/>
<path d="M127.90,417.60H132.30M130.10,415.40V419.80" stroke="#5a5a5a" stroke-width="1.1" fill="none"/>
<path d="M141.30,417.60H145.70M143.50,415.40V419.80" stroke="#5a5a5a" stroke-width="1.1" fill="none"/>
<text x="67.90" y="433.30" font-size="8.1" text-anchor="end" fill="#2c2c2c" font-weight="normal" textLength="26.4" lengthAdjust="spacingAndGlyphs" stroke="#2c2c2c" stroke-width="0.18">CRP-XL</text>
<path d="M74.40,431.00H78.60" stroke="#5a5a5a" stroke-width="1.15" fill="none"/>
<path d="M87.70,431.60H92.10M89.90,429.40V433.80" stroke="#5a5a5a" stroke-width="1.1" fill="none"/>
<path d="M101.10,431.60H105.50M103.30,429.40V433.80" stroke="#5a5a5a" stroke-width="1.1" fill="none"/>
<path d="M114.50,431.60H118.90M116.70,429.40V433.80" stroke="#5a5a5a" stroke-width="1.1" fill="none"/>
<path d="M127.90,431.60H132.30M130.10,429.40V433.80" stroke="#5a5a5a" stroke-width="1.1" fill="none"/>
<path d="M141.30,431.60H145.70M143.50,429.40V433.80" stroke="#5a5a5a" stroke-width="1.1" fill="none"/>
<text transform="translate(67.90,446.70) scale(0.97,1)" font-size="8.1" text-anchor="end" fill="#2c2c2c" font-weight="normal"  stroke="#2c2c2c" stroke-width="0.18">WT</text>
<path d="M74.40,443.80H78.60" stroke="#5a5a5a" stroke-width="1.15" fill="none"/>
<path d="M87.80,443.80H92.00" stroke="#5a5a5a" stroke-width="1.15" fill="none"/>
<path d="M101.10,443.80H105.50M103.30,441.60V446.00" stroke="#5a5a5a" stroke-width="1.1" fill="none"/>
<path d="M114.60,443.80H118.80" stroke="#5a5a5a" stroke-width="1.15" fill="none"/>
<path d="M128.00,443.80H132.20" stroke="#5a5a5a" stroke-width="1.15" fill="none"/>
<path d="M141.40,443.80H145.60" stroke="#5a5a5a" stroke-width="1.15" fill="none"/>
<text transform="translate(67.90,459.40) scale(0.97,1)" font-size="8.1" text-anchor="end" fill="#2c2c2c" font-weight="normal"  stroke="#2c2c2c" stroke-width="0.18">Low Fuc</text>
<path d="M74.40,457.20H78.60" stroke="#5a5a5a" stroke-width="1.15" fill="none"/>
<path d="M87.80,457.20H92.00" stroke="#5a5a5a" stroke-width="1.15" fill="none"/>
<path d="M101.20,457.20H105.40" stroke="#5a5a5a" stroke-width="1.15" fill="none"/>
<path d="M114.50,457.20H118.90M116.70,455.00V459.40" stroke="#5a5a5a" stroke-width="1.1" fill="none"/>
<path d="M128.00,457.20H132.20" stroke="#5a5a5a" stroke-width="1.15" fill="none"/>
<path d="M141.40,457.20H145.60" stroke="#5a5a5a" stroke-width="1.15" fill="none"/>
<text transform="translate(67.90,472.30) scale(0.97,1)" font-size="8.1" text-anchor="end" fill="#2c2c2c" font-weight="normal"  stroke="#2c2c2c" stroke-width="0.18">High Gal</text>
<path d="M74.40,470.00H78.60" stroke="#5a5a5a" stroke-width="1.15" fill="none"/>
<path d="M87.80,470.00H92.00" stroke="#5a5a5a" stroke-width="1.15" fill="none"/>
<path d="M101.20,470.00H105.40" stroke="#5a5a5a" stroke-width="1.15" fill="none"/>
<path d="M114.60,470.00H118.80" stroke="#5a5a5a" stroke-width="1.15" fill="none"/>
<path d="M127.90,470.00H132.30M130.10,467.80V472.20" stroke="#5a5a5a" stroke-width="1.1" fill="none"/>
<path d="M141.40,470.00H145.60" stroke="#5a5a5a" stroke-width="1.15" fill="none"/>
<text transform="translate(67.90,486.70) scale(0.97,1)" font-size="8.1" text-anchor="end" fill="#2c2c2c" font-weight="normal"  stroke="#2c2c2c" stroke-width="0.18">Low Fuc High Gal</text>
<path d="M74.40,484.90H78.60" stroke="#5a5a5a" stroke-width="1.15" fill="none"/>
<path d="M87.80,484.90H92.00" stroke="#5a5a5a" stroke-width="1.15" fill="none"/>
<path d="M101.20,484.90H105.40" stroke="#5a5a5a" stroke-width="1.15" fill="none"/>
<path d="M114.60,484.90H118.80" stroke="#5a5a5a" stroke-width="1.15" fill="none"/>
<path d="M128.00,484.90H132.20" stroke="#5a5a5a" stroke-width="1.15" fill="none"/>
<path d="M141.30,484.90H145.70M143.50,482.70V487.10" stroke="#5a5a5a" stroke-width="1.1" fill="none"/>
<text x="200.30" y="239.10" font-size="9.9" text-anchor="start" fill="#1a1a1a" font-weight="normal" letter-spacing="0.35" stroke="#1a1a1a" stroke-width="0.25">ii</text>
<text x="296.20" y="239.80" font-size="9.4" text-anchor="middle" fill="#111" font-weight="normal" textLength="20.2" lengthAdjust="spacingAndGlyphs" stroke="#111" stroke-width="0.25">ADP</text>
<line x1="251.60" y1="262.00" x2="251.60" y2="406.60" stroke="#1c1c1c" stroke-width="1.5"/>
<line x1="248.60" y1="405.90" x2="251.60" y2="405.90" stroke="#1c1c1c" stroke-width="1.3"/>
<text transform="translate(244.70,409.20) scale(0.93,1)" font-size="8.4" text-anchor="end" fill="#2c2c2c" font-weight="normal"  stroke="#2c2c2c" stroke-width="0.18">0</text>
<line x1="248.60" y1="370.10" x2="251.60" y2="370.10" stroke="#1c1c1c" stroke-width="1.3"/>
<text transform="translate(244.70,373.40) scale(0.93,1)" font-size="8.4" text-anchor="end" fill="#2c2c2c" font-weight="normal"  stroke="#2c2c2c" stroke-width="0.18">5000</text>
<line x1="248.60" y1="334.30" x2="251.60" y2="334.30" stroke="#1c1c1c" stroke-width="1.3"/>
<text transform="translate(244.70,337.60) scale(0.93,1)" font-size="8.4" text-anchor="end" fill="#2c2c2c" font-weight="normal"  stroke="#2c2c2c" stroke-width="0.18">10000</text>
<line x1="248.60" y1="298.50" x2="251.60" y2="298.50" stroke="#1c1c1c" stroke-width="1.3"/>
<text transform="translate(244.70,301.80) scale(0.93,1)" font-size="8.4" text-anchor="end" fill="#2c2c2c" font-weight="normal"  stroke="#2c2c2c" stroke-width="0.18">15000</text>
<line x1="248.60" y1="262.70" x2="251.60" y2="262.70" stroke="#1c1c1c" stroke-width="1.3"/>
<text transform="translate(244.70,266.00) scale(0.93,1)" font-size="8.4" text-anchor="end" fill="#2c2c2c" font-weight="normal"  stroke="#2c2c2c" stroke-width="0.18">20000</text>
<line x1="248.60" y1="405.90" x2="335.60" y2="405.90" stroke="#1c1c1c" stroke-width="1.4"/>
<line x1="260.10" y1="405.90" x2="260.10" y2="409.10" stroke="#1c1c1c" stroke-width="1.2"/>
<rect x="255.80" y="396.95" width="8.6" height="8.95" fill="#C3132F"/>
<line x1="260.10" y1="392.30" x2="260.10" y2="396.95" stroke="#C3132F" stroke-width="1.0"/>
<line x1="258.00" y1="392.30" x2="262.20" y2="392.30" stroke="#C3132F" stroke-width="1.1"/>
<line x1="273.30" y1="405.90" x2="273.30" y2="409.10" stroke="#1c1c1c" stroke-width="1.2"/>
<rect x="269.00" y="314.97" width="8.6" height="90.93" fill="#C3132F"/>
<line x1="273.30" y1="287.04" x2="273.30" y2="314.97" stroke="#C3132F" stroke-width="1.0"/>
<line x1="271.20" y1="287.04" x2="275.40" y2="287.04" stroke="#C3132F" stroke-width="1.1"/>
<line x1="286.50" y1="405.90" x2="286.50" y2="409.10" stroke="#1c1c1c" stroke-width="1.2"/>
<rect x="282.20" y="306.38" width="8.6" height="99.52" fill="#C3132F"/>
<line x1="286.50" y1="273.80" x2="286.50" y2="306.38" stroke="#C3132F" stroke-width="1.0"/>
<line x1="284.40" y1="273.80" x2="288.60" y2="273.80" stroke="#C3132F" stroke-width="1.1"/>
<line x1="299.70" y1="405.90" x2="299.70" y2="409.10" stroke="#1c1c1c" stroke-width="1.2"/>
<rect x="295.40" y="299.22" width="8.6" height="106.68" fill="#C3132F"/>
<line x1="299.70" y1="272.37" x2="299.70" y2="299.22" stroke="#C3132F" stroke-width="1.0"/>
<line x1="297.60" y1="272.37" x2="301.80" y2="272.37" stroke="#C3132F" stroke-width="1.1"/>
<line x1="312.90" y1="405.90" x2="312.90" y2="409.10" stroke="#1c1c1c" stroke-width="1.2"/>
<rect x="308.60" y="313.89" width="8.6" height="92.01" fill="#C3132F"/>
<line x1="312.90" y1="289.55" x2="312.90" y2="313.89" stroke="#C3132F" stroke-width="1.0"/>
<line x1="310.80" y1="289.55" x2="315.00" y2="289.55" stroke="#C3132F" stroke-width="1.1"/>
<line x1="326.10" y1="405.90" x2="326.10" y2="409.10" stroke="#1c1c1c" stroke-width="1.2"/>
<rect x="321.80" y="328.93" width="8.6" height="76.97" fill="#C3132F"/>
<line x1="326.10" y1="312.46" x2="326.10" y2="328.93" stroke="#C3132F" stroke-width="1.0"/>
<line x1="324.00" y1="312.46" x2="328.20" y2="312.46" stroke="#C3132F" stroke-width="1.1"/>
<line x1="270.00" y1="265.60" x2="325.90" y2="265.60" stroke="#000" stroke-width="1.1"/>
<text transform="translate(298.85,261.10) scale(0.96,1)" font-size="8.8" text-anchor="middle" fill="#2c2c2c" font-weight="normal"  stroke="#2c2c2c" stroke-width="0.18">n.s</text>
<text transform="translate(219.00,334.9) rotate(-90)" font-size="9.0" text-anchor="middle" fill="#2c2c2c" stroke="#2c2c2c" stroke-width="0.08" textLength="98.9" lengthAdjust="spacingAndGlyphs">Fibrinogen binding MFI (AFU)</text>
<text transform="translate(250.20,420.40) scale(0.97,1)" font-size="8.1" text-anchor="end" fill="#2c2c2c" font-weight="normal"  stroke="#2c2c2c" stroke-width="0.18">Spike</text>
<path d="M257.80,417.80H262.00" stroke="#5a5a5a" stroke-width="1.15" fill="none"/>
<path d="M271.07,417.80H275.47M273.27,415.60V420.00" stroke="#5a5a5a" stroke-width="1.1" fill="none"/>
<path d="M284.44,417.80H288.84M286.64,415.60V420.00" stroke="#5a5a5a" stroke-width="1.1" fill="none"/>
<path d="M297.81,417.80H302.21M300.01,415.60V420.00" stroke="#5a5a5a" stroke-width="1.1" fill="none"/>
<path d="M311.18,417.80H315.58M313.38,415.60V420.00" stroke="#5a5a5a" stroke-width="1.1" fill="none"/>
<path d="M324.55,417.80H328.95M326.75,415.60V420.00" stroke="#5a5a5a" stroke-width="1.1" fill="none"/>
<text x="250.20" y="433.30" font-size="8.1" text-anchor="end" fill="#2c2c2c" font-weight="normal" textLength="15.8" lengthAdjust="spacingAndGlyphs" stroke="#2c2c2c" stroke-width="0.18">ADP</text>
<path d="M257.80,432.00H262.00" stroke="#5a5a5a" stroke-width="1.15" fill="none"/>
<path d="M271.07,432.60H275.47M273.27,430.40V434.80" stroke="#5a5a5a" stroke-width="1.1" fill="none"/>
<path d="M284.44,432.60H288.84M286.64,430.40V434.80" stroke="#5a5a5a" stroke-width="1.1" fill="none"/>
<path d="M297.81,432.60H302.21M300.01,430.40V434.80" stroke="#5a5a5a" stroke-width="1.1" fill="none"/>
<path d="M311.18,432.60H315.58M313.38,430.40V434.80" stroke="#5a5a5a" stroke-width="1.1" fill="none"/>
<path d="M324.55,432.60H328.95M326.75,430.40V434.80" stroke="#5a5a5a" stroke-width="1.1" fill="none"/>
<text transform="translate(250.20,446.00) scale(0.97,1)" font-size="8.1" text-anchor="end" fill="#2c2c2c" font-weight="normal"  stroke="#2c2c2c" stroke-width="0.18">WT</text>
<path d="M257.80,444.30H262.00" stroke="#5a5a5a" stroke-width="1.15" fill="none"/>
<path d="M271.17,444.30H275.37" stroke="#5a5a5a" stroke-width="1.15" fill="none"/>
<path d="M284.44,444.30H288.84M286.64,442.10V446.50" stroke="#5a5a5a" stroke-width="1.1" fill="none"/>
<path d="M297.91,444.30H302.11" stroke="#5a5a5a" stroke-width="1.15" fill="none"/>
<path d="M311.28,444.30H315.48" stroke="#5a5a5a" stroke-width="1.15" fill="none"/>
<path d="M324.65,444.30H328.85" stroke="#5a5a5a" stroke-width="1.15" fill="none"/>
<text transform="translate(250.20,458.80) scale(0.97,1)" font-size="8.1" text-anchor="end" fill="#2c2c2c" font-weight="normal"  stroke="#2c2c2c" stroke-width="0.18">Low Fuc</text>
<path d="M257.80,457.10H262.00" stroke="#5a5a5a" stroke-width="1.15" fill="none"/>
<path d="M271.17,457.10H275.37" stroke="#5a5a5a" stroke-width="1.15" fill="none"/>
<path d="M284.54,457.10H288.74" stroke="#5a5a5a" stroke-width="1.15" fill="none"/>
<path d="M297.81,457.10H302.21M300.01,454.90V459.30" stroke="#5a5a5a" stroke-width="1.1" fill="none"/>
<path d="M311.28,457.10H315.48" stroke="#5a5a5a" stroke-width="1.15" fill="none"/>
<path d="M324.65,457.10H328.85" stroke="#5a5a5a" stroke-width="1.15" fill="none"/>
<text transform="translate(250.20,471.70) scale(0.97,1)" font-size="8.1" text-anchor="end" fill="#2c2c2c" font-weight="normal"  stroke="#2c2c2c" stroke-width="0.18">High Gal</text>
<path d="M257.80,469.70H262.00" stroke="#5a5a5a" stroke-width="1.15" fill="none"/>
<path d="M271.17,469.70H275.37" stroke="#5a5a5a" stroke-width="1.15" fill="none"/>
<path d="M284.54,469.70H288.74" stroke="#5a5a5a" stroke-width="1.15" fill="none"/>
<path d="M297.91,469.70H302.11" stroke="#5a5a5a" stroke-width="1.15" fill="none"/>
<path d="M311.18,469.70H315.58M313.38,467.50V471.90" stroke="#5a5a5a" stroke-width="1.1" fill="none"/>
<path d="M324.65,469.70H328.85" stroke="#5a5a5a" stroke-width="1.15" fill="none"/>
<text transform="translate(250.20,484.40) scale(0.97,1)" font-size="8.1" text-anchor="end" fill="#2c2c2c" font-weight="normal"  stroke="#2c2c2c" stroke-width="0.18">Low Fuc High Gal</text>
<path d="M257.80,482.30H262.00" stroke="#5a5a5a" stroke-width="1.15" fill="none"/>
<path d="M271.17,482.30H275.37" stroke="#5a5a5a" stroke-width="1.15" fill="none"/>
<path d="M284.54,482.30H288.74" stroke="#5a5a5a" stroke-width="1.15" fill="none"/>
<path d="M297.91,482.30H302.11" stroke="#5a5a5a" stroke-width="1.15" fill="none"/>
<path d="M311.28,482.30H315.48" stroke="#5a5a5a" stroke-width="1.15" fill="none"/>
<path d="M324.55,482.30H328.95M326.75,480.10V484.50" stroke="#5a5a5a" stroke-width="1.1" fill="none"/>
<text x="373.60" y="239.10" font-size="9.9" text-anchor="start" fill="#1a1a1a" font-weight="normal" letter-spacing="0.35" stroke="#1a1a1a" stroke-width="0.25">iii</text>
<text x="476.80" y="240.60" font-size="9.4" text-anchor="middle" fill="#111" font-weight="normal" textLength="32.8" lengthAdjust="spacingAndGlyphs" stroke="#111" stroke-width="0.25">TRAP-6</text>
<line x1="428.00" y1="262.00" x2="428.00" y2="406.60" stroke="#1c1c1c" stroke-width="1.5"/>
<line x1="425.00" y1="405.90" x2="428.00" y2="405.90" stroke="#1c1c1c" stroke-width="1.3"/>
<text transform="translate(421.90,409.20) scale(0.93,1)" font-size="8.4" text-anchor="end" fill="#2c2c2c" font-weight="normal"  stroke="#2c2c2c" stroke-width="0.18">0</text>
<line x1="425.00" y1="377.26" x2="428.00" y2="377.26" stroke="#1c1c1c" stroke-width="1.3"/>
<text transform="translate(421.90,380.56) scale(0.93,1)" font-size="8.4" text-anchor="end" fill="#2c2c2c" font-weight="normal"  stroke="#2c2c2c" stroke-width="0.18">5000</text>
<line x1="425.00" y1="348.62" x2="428.00" y2="348.62" stroke="#1c1c1c" stroke-width="1.3"/>
<text transform="translate(421.90,351.92) scale(0.93,1)" font-size="8.4" text-anchor="end" fill="#2c2c2c" font-weight="normal"  stroke="#2c2c2c" stroke-width="0.18">10000</text>
<line x1="425.00" y1="319.98" x2="428.00" y2="319.98" stroke="#1c1c1c" stroke-width="1.3"/>
<text transform="translate(421.90,323.28) scale(0.93,1)" font-size="8.4" text-anchor="end" fill="#2c2c2c" font-weight="normal"  stroke="#2c2c2c" stroke-width="0.18">15000</text>
<line x1="425.00" y1="291.34" x2="428.00" y2="291.34" stroke="#1c1c1c" stroke-width="1.3"/>
<text transform="translate(421.90,294.64) scale(0.93,1)" font-size="8.4" text-anchor="end" fill="#2c2c2c" font-weight="normal"  stroke="#2c2c2c" stroke-width="0.18">20000</text>
<line x1="425.00" y1="262.70" x2="428.00" y2="262.70" stroke="#1c1c1c" stroke-width="1.3"/>
<text transform="translate(421.90,266.00) scale(0.93,1)" font-size="8.4" text-anchor="end" fill="#2c2c2c" font-weight="normal"  stroke="#2c2c2c" stroke-width="0.18">25000</text>
<line x1="425.00" y1="405.90" x2="512.80" y2="405.90" stroke="#1c1c1c" stroke-width="1.4"/>
<line x1="436.60" y1="405.90" x2="436.60" y2="409.10" stroke="#1c1c1c" stroke-width="1.2"/>
<rect x="432.30" y="399.03" width="8.6" height="6.87" fill="#C3132F"/>
<line x1="436.60" y1="395.30" x2="436.60" y2="399.03" stroke="#C3132F" stroke-width="1.0"/>
<line x1="434.50" y1="395.30" x2="438.70" y2="395.30" stroke="#C3132F" stroke-width="1.1"/>
<line x1="449.80" y1="405.90" x2="449.80" y2="409.10" stroke="#1c1c1c" stroke-width="1.2"/>
<rect x="445.50" y="322.84" width="8.6" height="83.06" fill="#C3132F"/>
<line x1="449.80" y1="309.10" x2="449.80" y2="322.84" stroke="#C3132F" stroke-width="1.0"/>
<line x1="447.70" y1="309.10" x2="451.90" y2="309.10" stroke="#C3132F" stroke-width="1.1"/>
<line x1="463.00" y1="405.90" x2="463.00" y2="409.10" stroke="#1c1c1c" stroke-width="1.2"/>
<rect x="458.70" y="307.21" width="8.6" height="98.69" fill="#C3132F"/>
<line x1="463.00" y1="280.57" x2="463.00" y2="307.21" stroke="#C3132F" stroke-width="1.0"/>
<line x1="460.90" y1="280.57" x2="465.10" y2="280.57" stroke="#C3132F" stroke-width="1.1"/>
<line x1="476.20" y1="405.90" x2="476.20" y2="409.10" stroke="#1c1c1c" stroke-width="1.2"/>
<rect x="471.90" y="336.02" width="8.6" height="69.88" fill="#C3132F"/>
<line x1="476.20" y1="316.54" x2="476.20" y2="336.02" stroke="#C3132F" stroke-width="1.0"/>
<line x1="474.10" y1="316.54" x2="478.30" y2="316.54" stroke="#C3132F" stroke-width="1.1"/>
<line x1="489.40" y1="405.90" x2="489.40" y2="409.10" stroke="#1c1c1c" stroke-width="1.2"/>
<rect x="485.10" y="313.11" width="8.6" height="92.79" fill="#C3132F"/>
<line x1="489.40" y1="303.94" x2="489.40" y2="313.11" stroke="#C3132F" stroke-width="1.0"/>
<line x1="487.30" y1="303.94" x2="491.50" y2="303.94" stroke="#C3132F" stroke-width="1.1"/>
<line x1="502.60" y1="405.90" x2="502.60" y2="409.10" stroke="#1c1c1c" stroke-width="1.2"/>
<rect x="498.30" y="317.29" width="8.6" height="88.61" fill="#C3132F"/>
<line x1="502.60" y1="299.82" x2="502.60" y2="317.29" stroke="#C3132F" stroke-width="1.0"/>
<line x1="500.50" y1="299.82" x2="504.70" y2="299.82" stroke="#C3132F" stroke-width="1.1"/>
<line x1="446.50" y1="265.60" x2="502.30" y2="265.60" stroke="#000" stroke-width="1.1"/>
<text transform="translate(475.30,261.10) scale(0.96,1)" font-size="8.8" text-anchor="middle" fill="#2c2c2c" font-weight="normal"  stroke="#2c2c2c" stroke-width="0.18">n.s</text>
<text transform="translate(395.00,334.9) rotate(-90)" font-size="9.0" text-anchor="middle" fill="#2c2c2c" stroke="#2c2c2c" stroke-width="0.08" textLength="98.9" lengthAdjust="spacingAndGlyphs">Fibrinogen binding MFI (AFU)</text>
<text transform="translate(427.90,421.00) scale(0.97,1)" font-size="8.1" text-anchor="end" fill="#2c2c2c" font-weight="normal"  stroke="#2c2c2c" stroke-width="0.18">Spike</text>
<path d="M434.50,418.10H438.70" stroke="#5a5a5a" stroke-width="1.15" fill="none"/>
<path d="M447.82,418.10H452.22M450.02,415.90V420.30" stroke="#5a5a5a" stroke-width="1.1" fill="none"/>
<path d="M461.24,418.10H465.64M463.44,415.90V420.30" stroke="#5a5a5a" stroke-width="1.1" fill="none"/>
<path d="M474.66,418.10H479.06M476.86,415.90V420.30" stroke="#5a5a5a" stroke-width="1.1" fill="none"/>
<path d="M488.08,418.10H492.48M490.28,415.90V420.30" stroke="#5a5a5a" stroke-width="1.1" fill="none"/>
<path d="M501.50,418.10H505.90M503.70,415.90V420.30" stroke="#5a5a5a" stroke-width="1.1" fill="none"/>
<text x="427.90" y="434.80" font-size="8.1" text-anchor="end" fill="#2c2c2c" font-weight="normal" textLength="26.9" lengthAdjust="spacingAndGlyphs" stroke="#2c2c2c" stroke-width="0.18">TRAP-6</text>
<path d="M434.50,432.20H438.70" stroke="#5a5a5a" stroke-width="1.15" fill="none"/>
<path d="M447.82,432.80H452.22M450.02,430.60V435.00" stroke="#5a5a5a" stroke-width="1.1" fill="none"/>
<path d="M461.24,432.80H465.64M463.44,430.60V435.00" stroke="#5a5a5a" stroke-width="1.1" fill="none"/>
<path d="M474.66,432.80H479.06M476.86,430.60V435.00" stroke="#5a5a5a" stroke-width="1.1" fill="none"/>
<path d="M488.08,432.80H492.48M490.28,430.60V435.00" stroke="#5a5a5a" stroke-width="1.1" fill="none"/>
<path d="M501.50,432.80H505.90M503.70,430.60V435.00" stroke="#5a5a5a" stroke-width="1.1" fill="none"/>
<text transform="translate(427.90,447.70) scale(0.97,1)" font-size="8.1" text-anchor="end" fill="#2c2c2c" font-weight="normal"  stroke="#2c2c2c" stroke-width="0.18">WT</text>
<path d="M434.50,445.80H438.70" stroke="#5a5a5a" stroke-width="1.15" fill="none"/>
<path d="M447.92,445.80H452.12" stroke="#5a5a5a" stroke-width="1.15" fill="none"/>
<path d="M461.24,445.80H465.64M463.44,443.60V448.00" stroke="#5a5a5a" stroke-width="1.1" fill="none"/>
<path d="M474.76,445.80H478.96" stroke="#5a5a5a" stroke-width="1.15" fill="none"/>
<path d="M488.18,445.80H492.38" stroke="#5a5a5a" stroke-width="1.15" fill="none"/>
<path d="M501.60,445.80H505.80" stroke="#5a5a5a" stroke-width="1.15" fill="none"/>
<text transform="translate(427.90,460.80) scale(0.97,1)" font-size="8.1" text-anchor="end" fill="#2c2c2c" font-weight="normal"  stroke="#2c2c2c" stroke-width="0.18">Low Fuc</text>
<path d="M434.50,458.50H438.70" stroke="#5a5a5a" stroke-width="1.15" fill="none"/>
<path d="M447.92,458.50H452.12" stroke="#5a5a5a" stroke-width="1.15" fill="none"/>
<path d="M461.34,458.50H465.54" stroke="#5a5a5a" stroke-width="1.15" fill="none"/>
<path d="M474.66,458.50H479.06M476.86,456.30V460.70" stroke="#5a5a5a" stroke-width="1.1" fill="none"/>
<path d="M488.18,458.50H492.38" stroke="#5a5a5a" stroke-width="1.15" fill="none"/>
<path d="M501.60,458.50H505.80" stroke="#5a5a5a" stroke-width="1.15" fill="none"/>
<text transform="translate(427.90,473.70) scale(0.97,1)" font-size="8.1" text-anchor="end" fill="#2c2c2c" font-weight="normal"  stroke="#2c2c2c" stroke-width="0.18">High Gal</text>
<path d="M434.50,471.40H438.70" stroke="#5a5a5a" stroke-width="1.15" fill="none"/>
<path d="M447.92,471.40H452.12" stroke="#5a5a5a" stroke-width="1.15" fill="none"/>
<path d="M461.34,471.40H465.54" stroke="#5a5a5a" stroke-width="1.15" fill="none"/>
<path d="M474.76,471.40H478.96" stroke="#5a5a5a" stroke-width="1.15" fill="none"/>
<path d="M488.08,471.40H492.48M490.28,469.20V473.60" stroke="#5a5a5a" stroke-width="1.1" fill="none"/>
<path d="M501.60,471.40H505.80" stroke="#5a5a5a" stroke-width="1.15" fill="none"/>
<text transform="translate(427.90,486.70) scale(0.97,1)" font-size="8.1" text-anchor="end" fill="#2c2c2c" font-weight="normal"  stroke="#2c2c2c" stroke-width="0.18">Low Fuc High Gal</text>
<path d="M434.50,484.40H438.70" stroke="#5a5a5a" stroke-width="1.15" fill="none"/>
<path d="M447.92,484.40H452.12" stroke="#5a5a5a" stroke-width="1.15" fill="none"/>
<path d="M461.34,484.40H465.54" stroke="#5a5a5a" stroke-width="1.15" fill="none"/>
<path d="M474.76,484.40H478.96" stroke="#5a5a5a" stroke-width="1.15" fill="none"/>
<path d="M488.18,484.40H492.38" stroke="#5a5a5a" stroke-width="1.15" fill="none"/>
<path d="M501.50,484.40H505.90M503.70,482.20V486.60" stroke="#5a5a5a" stroke-width="1.1" fill="none"/>
<rect x="1.5" y="1.5" width="517" height="495" fill="none" stroke="#8a8a8a" stroke-width="1"/>
<rect x="0.5" y="0.5" width="519" height="497" fill="none" stroke="#000" stroke-width="1"/>
</svg>
</body></html>
